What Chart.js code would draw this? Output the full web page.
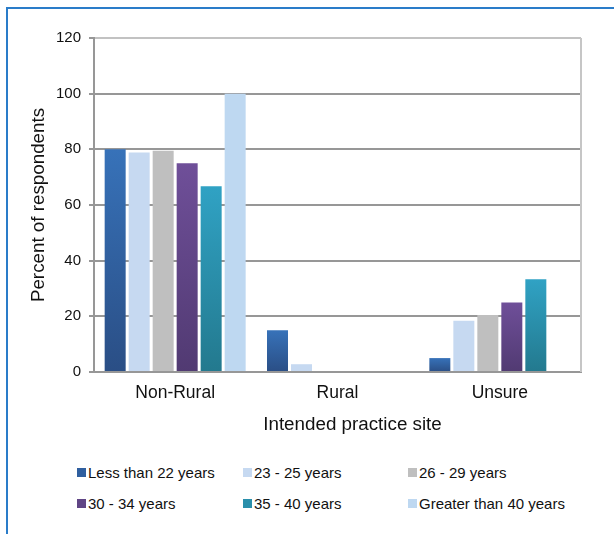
<!DOCTYPE html>
<html>
<head>
<meta charset="utf-8">
<script src="https://cdn.jsdelivr.net/npm/chart.js@4.4.1/dist/chart.umd.min.js"></script>
<style>
  html, body { margin: 0; padding: 0; background: #fff; }
  body { width: 614px; height: 534px; position: relative; overflow: hidden; font-family: 'Liberation Sans', Arial, sans-serif; }
  #frame { position: absolute; left: 6px; top: 7px; width: 700px; height: 600px;
           border-left: 2px solid #2a7cc9; border-top: 2px solid #2a7cc9; box-sizing: border-box; }
  #c { position: absolute; left: 0; top: 0; }
  #legend { position: absolute; left: 77px; top: 457px; display: grid;
            grid-template-columns: 166px 165px auto; grid-auto-rows: 31px; }
  .item { display: flex; align-items: center; font-size: 15px; color: #111; white-space: nowrap; }
  .sw { width: 9px; height: 9px; margin-right: 2px; flex: none; }
</style>
</head>
<body>
<div id="frame"></div>
<canvas id="c" width="614" height="440"></canvas>
<div id="legend"></div>
<script>
// Intended practice site by age group (percent of respondents)
const categories = ['Non-Rural', 'Rural', 'Unsure'];
const seriesNames = ['Less than 22 years', '23 - 25 years', '26 - 29 years',
                     '30 - 34 years', '35 - 40 years', 'Greater than 40 years'];
const lessThan22 = [80, 15, 5];
const age23to25 = [78.9, 2.8, 18.4];
const age26to29 = [79.5, 0, 20.5];
const age30to34 = [75, 0, 25];
const age35to40 = [66.7, 0, 33.3];
const over40 = [100, 0, 0];
const yTicks = [0, 20, 40, 60, 80, 100, 120];
const xTitle = 'Intended practice site';
const yTitle = 'Percent of respondents';

const seriesValues = [lessThan22, age23to25, age26to29, age30to34, age35to40, over40];

// bar fill: top colour, bottom colour, legend swatch colour
const fills = [
  ['#3772b9', '#2a4e85', '#2f5f9f'],
  ['#c6d9f1', '#c6d9f1', '#c6d9f1'],
  ['#bfbfbf', '#bfbfbf', '#bfbfbf'],
  ['#6f4f99', '#513a72', '#604585'],
  ['#30a2c4', '#23798e', '#2a8fab'],
  ['#bed8f1', '#bed8f1', '#bed8f1']
];

// vertical gradient per bar, running from the bar top down to the baseline
function barGradient(top, bottom) {
  return (ctx) => {
    if (top === bottom) return top;
    const chart = ctx.chart;
    if (!chart.chartArea || ctx.type !== 'data') return top;
    const y = chart.scales.y;
    const v = ctx.parsed ? ctx.parsed.y : ctx.raw;
    const y0 = y.getPixelForValue(v);
    const y1 = y.getPixelForValue(0);
    if (y1 - y0 < 1) return bottom;
    const g = chart.ctx.createLinearGradient(0, y0, 0, y1);
    g.addColorStop(0, top);
    g.addColorStop(1, bottom);
    return g;
  };
}

// light frame on the right side of the plot area, plus the x-axis title
const plotFrame = {
  id: 'plotFrame',
  afterDraw(chart) {
    const { ctx, chartArea: a } = chart;
    ctx.save();
    ctx.strokeStyle = '#c6c6c6';
    ctx.lineWidth = 2;
    ctx.beginPath();
    ctx.moveTo(a.right, a.top);
    ctx.lineTo(a.right, a.bottom);
    ctx.stroke();

    ctx.fillStyle = '#111';
    ctx.font = "18.8px 'Liberation Sans', Arial, sans-serif";
    ctx.textAlign = 'center';
    ctx.textBaseline = 'middle';
    ctx.fillText(xTitle, (a.left + a.right) / 2 + 15, a.bottom + 53);
    ctx.restore();
  }
};

Chart.defaults.font.family = "'Liberation Sans', Arial, sans-serif";
Chart.defaults.color = '#111';

const chart = new Chart(document.getElementById('c'), {
  type: 'bar',
  data: {
    labels: categories,
    datasets: seriesNames.map((name, i) => ({
      label: name,
      data: seriesValues[i],
      backgroundColor: barGradient(fills[i][0], fills[i][1]),
      borderWidth: 0,
      categoryPercentage: 0.887,
      barPercentage: 0.875
    }))
  },
  options: {
    responsive: false,
    animation: false,
    layout: { padding: { top: 38, right: 33, left: 0, bottom: 0 } },
    plugins: { legend: { display: false }, tooltip: { enabled: false } },
    scales: {
      x: {
        afterFit: (s) => { s.height = 68; },
        grid: { display: false, drawTicks: false },
        border: { display: true, color: '#979797', width: 2 },
        ticks: { font: { size: 17.5 }, padding: 11, color: '#111' }
      },
      y: {
        min: yTicks[0],
        max: yTicks[yTicks.length - 1],
        afterFit: (s) => { s.width = 94; },
        afterBuildTicks: (s) => { s.ticks = yTicks.map(v => ({ value: v })); },
        grid: {
          color: (c) => (c.tick && c.tick.value === yTicks[yTicks.length - 1]) ? '#c2c2c2' : '#979797',
          lineWidth: 2,
          tickLength: 5,
          tickColor: '#979797',
          drawTicks: true
        },
        border: { display: true, color: '#979797', width: 2 },
        ticks: { font: { size: 15 }, padding: 8, color: '#111' },
        title: { display: true, text: yTitle, font: { size: 18.8 }, padding: { top: 28, bottom: 0 }, color: '#111' }
      }
    }
  },
  plugins: [plotFrame]
});

// legend laid out in three columns under the plot
const legend = document.getElementById('legend');
chart.data.datasets.forEach((ds, i) => {
  const item = document.createElement('div');
  item.className = 'item';
  const sw = document.createElement('span');
  sw.className = 'sw';
  sw.style.background = fills[i][2];
  item.appendChild(sw);
  item.appendChild(document.createTextNode(ds.label));
  legend.appendChild(item);
});
</script>
</body>
</html>
